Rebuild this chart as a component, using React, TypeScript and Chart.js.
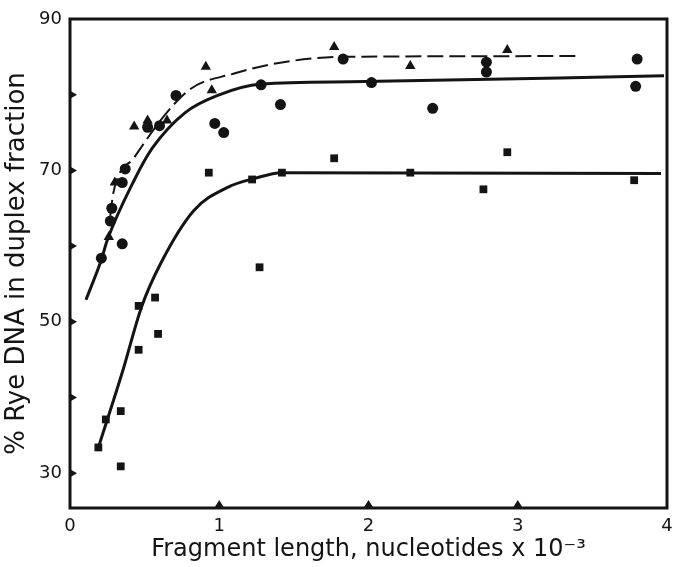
import React, { useEffect, useRef } from "react";
import { Chart, registerables } from "chart.js";

Chart.register(...registerables);

// Data (x in nucleotides x 10^-3, y in %)
const circleX = [0.21, 0.27, 0.28, 0.35, 0.35, 0.37, 0.52, 0.60, 0.71, 0.97, 1.03, 1.28, 1.41, 1.83, 2.02, 2.43, 2.79, 2.79, 3.80, 3.79];
const circleY = [58.4, 63.3, 65.0, 60.3, 68.4, 70.2, 75.7, 75.9, 79.9, 76.2, 75.0, 81.3, 78.7, 84.7, 81.6, 78.2, 84.3, 83.0, 84.7, 81.1];

const triangleX = [0.26, 0.30, 0.43, 0.52, 0.65, 0.91, 0.95, 1.77, 2.28, 2.93];
const triangleY = [61.2, 68.4, 75.8, 76.6, 76.6, 83.7, 80.6, 86.3, 83.8, 85.9];

const squareX = [0.19, 0.24, 0.34, 0.34, 0.46, 0.46, 0.57, 0.59, 0.93, 1.22, 1.27, 1.42, 1.77, 2.28, 2.77, 2.93, 3.78];
const squareY = [33.4, 37.1, 38.2, 30.9, 46.3, 52.1, 53.2, 48.4, 69.7, 68.8, 57.2, 69.7, 71.6, 69.7, 67.5, 72.4, 68.7];

// Fitted curves
const circleFitX = [0.107, 0.21, 0.25, 0.43, 0.55, 0.77, 0.99, 1.28, 1.88, 3.98];
const circleFitY = [52.9, 58.2, 60.8, 68.7, 72.9, 77.6, 79.9, 81.4, 81.7, 82.5];

const triangleFitX = [0.27, 0.29, 0.43, 0.79, 1.10, 1.43, 1.83, 3.40];
const triangleFitY = [64.0, 67.0, 71.7, 80.5, 82.8, 84.3, 85.0, 85.1];

const squareFitX = [0.19, 0.35, 0.48, 0.61, 0.83, 1.06, 1.23, 1.42, 3.96];
const squareFitY = [33.4, 43.3, 52.0, 57.8, 64.7, 67.8, 68.9, 69.7, 69.6];

const xTickLabels = [0, 1, 2, 3, 4];
const xTickMarks = [1, 2, 3];
const yTickValues = [30, 40, 50, 60, 70, 80, 90];
const yTickMarks = [30, 40, 50, 60, 70, 80];
const yTickLabels = [30, 50, 70, 90];

const zip = (xs: number[], ys: number[]) => xs.map((x, i) => ({ x, y: ys[i] }));

const INK = "#141414";

const framePlugin = {
  id: "frameAndTicks",
  afterDatasetsDraw(chart: any) {
    const { ctx, chartArea, scales } = chart;
    ctx.save();
    ctx.strokeStyle = INK;
    ctx.lineWidth = 3;
    ctx.strokeRect(chartArea.left, chartArea.top, chartArea.right - chartArea.left, chartArea.bottom - chartArea.top);
    ctx.fillStyle = INK;
    xTickMarks.forEach((v) => {
      const px = scales.x.getPixelForValue(v);
      const py = chartArea.bottom;
      ctx.beginPath();
      ctx.moveTo(px - 5, py);
      ctx.lineTo(px + 5, py);
      ctx.lineTo(px, py - 8);
      ctx.closePath();
      ctx.fill();
    });
    yTickMarks.forEach((v) => {
      const py = scales.y.getPixelForValue(v);
      const px = chartArea.left;
      ctx.beginPath();
      ctx.moveTo(px, py - 4);
      ctx.lineTo(px, py + 4);
      ctx.lineTo(px + 7, py);
      ctx.closePath();
      ctx.fill();
    });
    ctx.restore();
  },
};

export default function App() {
  const ref = useRef<HTMLCanvasElement | null>(null);

  useEffect(() => {
    document.body.style.margin = "0";
    const canvas = ref.current;
    if (!canvas) return;
    const chart = new Chart(canvas, {
      type: "scatter",
      data: {
        datasets: [
          {
            type: "line",
            data: zip(circleFitX, circleFitY),
            borderColor: INK,
            borderWidth: 3,
            pointRadius: 0,
            cubicInterpolationMode: "monotone",
            fill: false,
          } as any,
          {
            type: "line",
            data: zip(triangleFitX, triangleFitY),
            borderColor: INK,
            borderWidth: 2,
            borderDash: [16, 6],
            pointRadius: 0,
            cubicInterpolationMode: "monotone",
            fill: false,
          } as any,
          {
            type: "line",
            data: zip(squareFitX, squareFitY),
            borderColor: INK,
            borderWidth: 3,
            pointRadius: 0,
            cubicInterpolationMode: "monotone",
            fill: false,
          } as any,
          {
            data: zip(circleX, circleY),
            pointStyle: "circle",
            pointRadius: 5.5,
            backgroundColor: INK,
            borderColor: INK,
            borderWidth: 0,
          },
          {
            data: zip(triangleX, triangleY),
            pointStyle: "triangle",
            pointRadius: 6,
            backgroundColor: INK,
            borderColor: INK,
            borderWidth: 0,
          },
          {
            data: zip(squareX, squareY),
            pointStyle: "rect",
            pointRadius: 5.5,
            backgroundColor: INK,
            borderColor: INK,
            borderWidth: 0,
          },
        ],
      },
      options: {
        responsive: false,
        animation: false,
        devicePixelRatio: 1,
        layout: { padding: { top: 19, right: 5, left: 0, bottom: 0 } },
        plugins: { legend: { display: false }, tooltip: { enabled: false } },
        scales: {
          x: {
            type: "linear",
            min: 0,
            max: 4,
            grid: { display: false, drawTicks: false },
            border: { display: false },
            afterBuildTicks: (s: any) => {
              s.ticks = xTickLabels.map((v) => ({ value: v }));
            },
            afterFit: (s: any) => {
              s.height = 59;
              s.paddingLeft = 0;
              s.paddingRight = 0;
            },
            ticks: {
              color: INK,
              padding: 8,
              font: { family: "DejaVu Sans", size: 18 },
              callback: (v: any) => String(v),
            },
            title: {
              display: true,
              text: "Fragment length, nucleotides x 10⁻³",
              color: INK,
              font: { family: "DejaVu Sans", size: 24 },
              padding: { top: 0, bottom: 3 },
            },
          },
          y: {
            type: "linear",
            min: 25.4,
            max: 90,
            grid: { display: false, drawTicks: false },
            border: { display: false },
            afterBuildTicks: (s: any) => {
              s.ticks = yTickValues.map((v) => ({ value: v }));
            },
            afterFit: (s: any) => {
              s.width = 70;
              s.paddingTop = 0;
              s.paddingBottom = 0;
            },
            ticks: {
              color: INK,
              padding: 8,
              font: { family: "DejaVu Sans", size: 18 },
              callback: (v: any) => (yTickLabels.includes(Number(v)) ? String(v) : ""),
            },
            title: {
              display: true,
              text: "% Rye DNA in duplex fraction",
              color: INK,
              font: { family: "DejaVu Sans", size: 26 },
              padding: { top: 2, bottom: 0 },
            },
          },
        },
      },
      plugins: [framePlugin],
    });
    return () => chart.destroy();
  }, []);

  return (
    <div style={{ width: 673, height: 567, background: "#fff" }}>
      <canvas ref={ref} width={673} height={567} style={{ display: "block" }} />
    </div>
  );
}
